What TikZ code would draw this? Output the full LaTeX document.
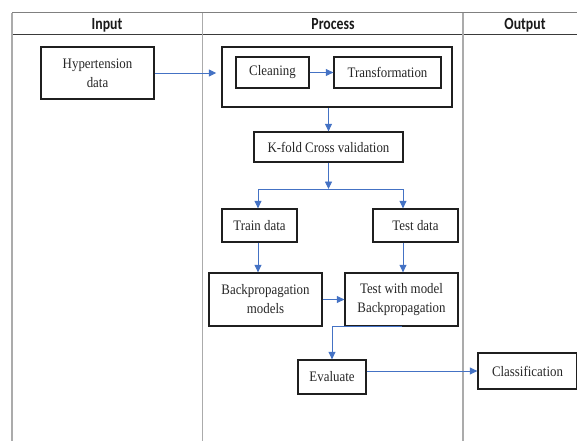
\documentclass[tikz,border=0pt]{standalone}
\usepackage{fontspec}
\setmainfont[FakeStretch=0.89]{Liberation Serif}
\newfontfamily\hdrfont[FakeStretch=0.81]{Carlito}
\usetikzlibrary{arrows.meta}
\definecolor{arrblue}{HTML}{4472C4}
\definecolor{vgrid}{HTML}{ABABAB}
\definecolor{tgrid}{HTML}{808080}
\definecolor{hgrid}{HTML}{3A3A3A}
\tikzset{
  box/.style={draw=black!88, line width=1.3pt, align=center, inner sep=0pt,
    font=\fontsize{14.5}{19}\selectfont, text=black!85},
  hdr/.style={font=\hdrfont\bfseries\fontsize{17}{19}\selectfont, inner sep=0pt, anchor=base, text=black!90},
  arr/.style={draw=arrblue, line width=0.9pt, -{Triangle[length=7.5pt,width=7pt]}},
  lin/.style={draw=arrblue, line width=0.9pt},
}
\begin{document}
\begin{tikzpicture}[x=1pt,y=-1pt]
\useasboundingbox (0,0) rectangle (577,441);
% table
\draw[tgrid, line width=1pt] (12,13) -- (577,13);
\draw[hgrid, line width=1pt] (12,35) -- (577,35);
\draw[vgrid, line width=1.8pt] (12,13) -- (12,441);
\draw[vgrid, line width=1.8pt] (202.5,13) -- (202.5,441);
\draw[vgrid, line width=1.8pt] (463,13) -- (463,441);
\node[hdr] (hin) at (107,30) {Input};
\node[hdr] (hpr) at (333,30) {Process};
\node[hdr] (hout) at (525,30) {Output};
% boxes
\node[box, minimum width=113pt, minimum height=52pt] (hyp) at (97.5,73) {Hypertension\\data};
\node[box, line width=1.5pt, minimum width=230pt, minimum height=60pt] (outer) at (337,77) {};
\node[box, minimum width=73pt, minimum height=31pt] (clean) at (272.5,72.5) {Cleaning};
\node[box, minimum width=107pt, minimum height=31pt] (trans) at (387.5,72.5) {Transformation};
\node[box, minimum width=149pt, minimum height=30pt] (kfold) at (328.5,147) {K-fold Cross validation};
\node[box, minimum width=75pt, minimum height=33pt] (train) at (259.5,225.5) {Train data};
\node[box, minimum width=85pt, minimum height=33pt] (testd) at (415.5,225.5) {Test data};
\node[box, minimum width=113pt, minimum height=53pt] (bp) at (265.5,299.5) {Backpropagation\\models};
\node[box, minimum width=113pt, minimum height=53pt] (twm) at (401.5,299.5) {Test with model\\Backpropagation};
\node[box, minimum width=68pt, minimum height=34pt] (eval) at (332,377) {Evaluate};
\node[box, minimum width=99pt, minimum height=36pt] (cls) at (527.5,371) {Classification};
% connectors
\coordinate (split) at (328.5,189);
\coordinate (jl) at (258,189);
\coordinate (jr) at (403,189);
\draw[arr, shorten >=5pt] (hyp.east) -- (hyp.east -| outer.west);
\draw[arr] (clean.east) -- (trans.west);
\draw[arr] (outer.south -| kfold.north) -- (kfold.north);
\draw[arr] (kfold.south) -- (split);
\draw[lin] (jl) -- (jr);
\draw[arr] (jl) -- (jl |- train.north);
\draw[arr] (jr) -- (jr |- testd.north);
\draw[arr] (jl |- train.south) -- (jl |- bp.north);
\draw[arr] (jr |- testd.south) -- (jr |- twm.north);
\draw[arr] (bp.east) -- (twm.west);
\draw[arr] (twm.south) -| (eval.north);
\draw[arr] (eval.east |- cls.west) -- (cls.west);
\end{tikzpicture}
\end{document}
